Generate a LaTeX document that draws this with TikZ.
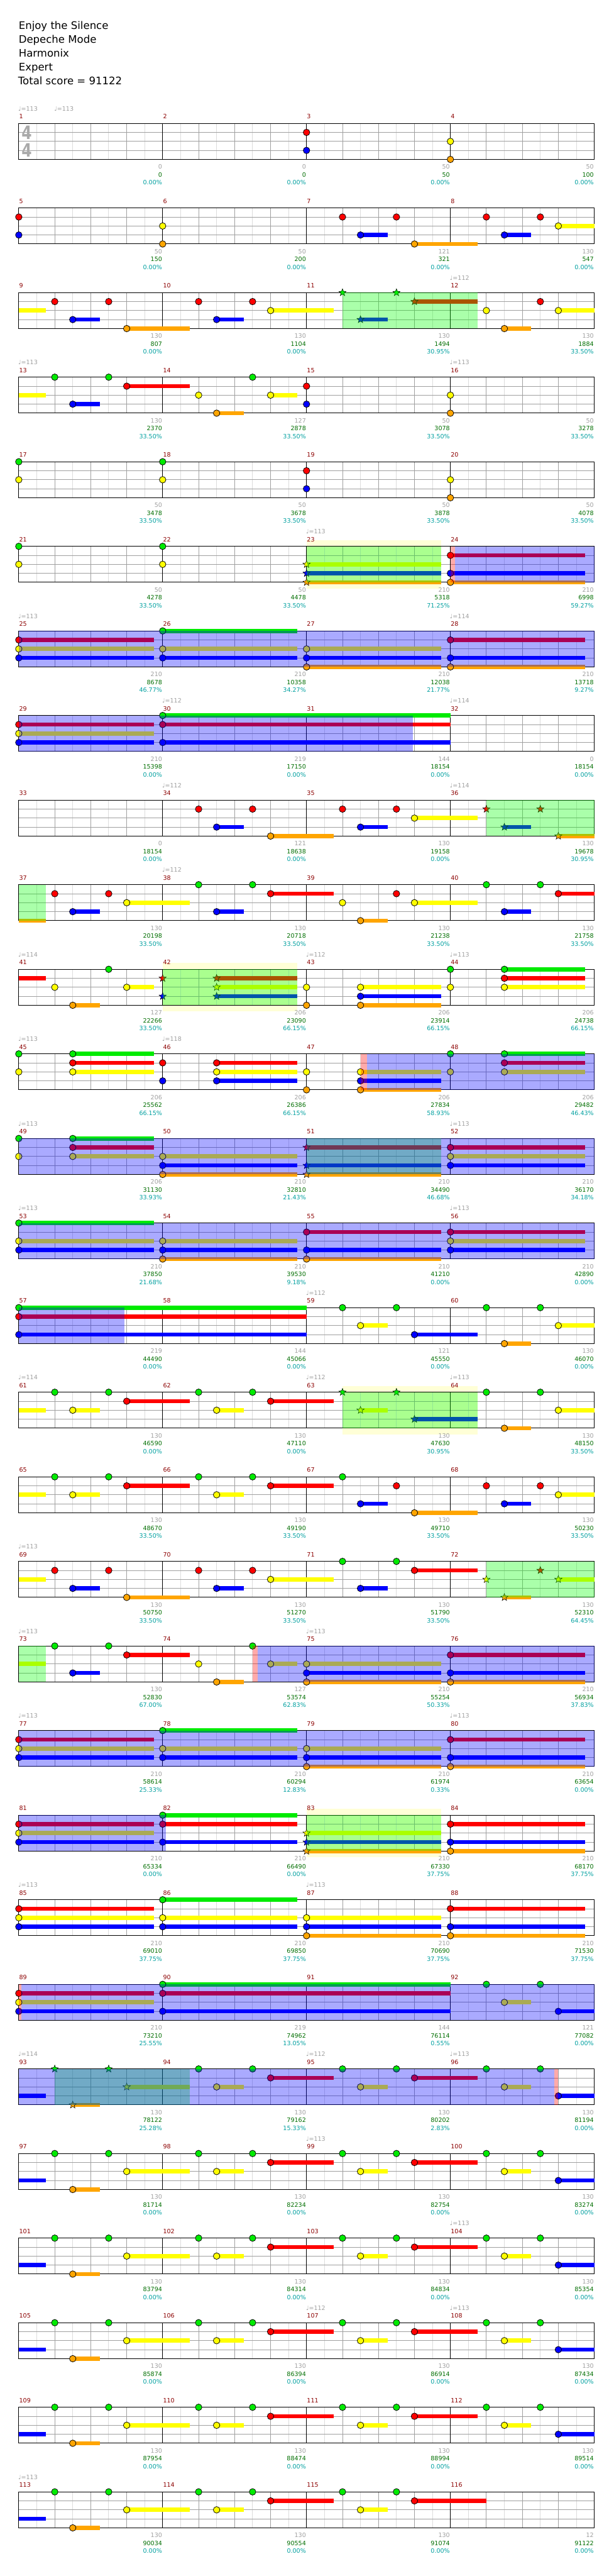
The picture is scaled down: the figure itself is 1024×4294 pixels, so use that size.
\documentclass[tikz,border=0pt]{standalone}
\usepackage{fontspec}
\setmainfont{DejaVu Sans}
\definecolor{cG}{RGB}{0,235,0}
\definecolor{cR}{RGB}{255,0,0}
\definecolor{cY}{RGB}{255,255,0}
\definecolor{cB}{RGB}{0,0,255}
\definecolor{cO}{RGB}{255,165,0}
\definecolor{ovG}{RGB}{0,255,0}
\definecolor{ovB}{RGB}{0,0,255}
\definecolor{ovR}{RGB}{255,0,0}
\definecolor{gridlight}{RGB}{220,220,220}
\definecolor{gridmid}{RGB}{160,160,160}
\definecolor{mnum}{RGB}{140,0,0}
\definecolor{numgray}{RGB}{160,160,160}
\definecolor{numgreen}{RGB}{0,110,0}
\definecolor{numteal}{RGB}{0,160,160}
\definecolor{paley}{RGB}{255,255,215}
\definecolor{tsig}{RGB}{170,170,170}
\tikzset{
  smalltxt/.style={font=\fontsize{7.5pt}{9pt}\selectfont, inner sep=0pt},
  titletxt/.style={font=\fontsize{13pt}{15pt}\selectfont, inner sep=0pt, anchor=base west},
  tsigtxt/.style={text=tsig, font=\bfseries\fontsize{23pt}{23pt}\selectfont, inner sep=0pt}
}
\newcounter{nn}
\def\lyG{0}\def\lyR{15}\def\lyY{30}\def\lyB{45}\def\lyO{60}
\newcommand\Gm[2]{\edef\tmpy{\csname ly#2\endcsname}\filldraw[fill=c#2,draw=black,line width=0.6pt] ({31.33+30*(#1)},\tmpy) circle (4.1pt);}
\newcommand\Bar[3]{\edef\tmpy{\csname ly#3\endcsname}\fill[c#3] ({31.33+30*(#1)},{\tmpy-3.5}) rectangle ({31.33+30*(#2)},{\tmpy+3.5});}
\newcommand\Su[3]{\Bar{#1}{#2}{#3}\Gm{#1}{#3}}
\newcommand\Cn[2]{\Bar{0}{#1}{#2}}
\newcommand\Sr[2]{\edef\tmpy{\csname ly#2\endcsname}\filldraw[fill=c#2,draw=black,line width=0.4pt] ({31.33+30*(#1)},\tmpy) +(90:4.8pt) -- +(126:2pt) -- +(162:4.8pt) -- +(198:2pt) -- +(234:4.8pt) -- +(270:2pt) -- +(306:4.8pt) -- +(342:2pt) -- +(18:4.8pt) -- +(54:2pt) -- cycle;}
\newcommand\SrS[3]{\Bar{#1}{#2}{#3}\Sr{#1}{#3}}
\newcommand\Ch[3]{\foreach \L in {#3}{\Su{#1}{#2}{\L}}}
\newcommand\ChS[3]{\foreach \L in {#3}{\SrS{#1}{#2}{\L}}}
\newcommand\OvG[2]{\fill[ovG,fill opacity=0.333] ({31.33+30*(#1)},0) rectangle ({31.33+30*(#2)},60);}
\newcommand\OvB[2]{\fill[ovB,fill opacity=0.333] ({31.33+30*(#1)},0) rectangle ({31.33+30*(#2)},60);}
\newcommand\OvR[2]{\fill[ovR,fill opacity=0.333] ({31.33+30*(#1)},0) rectangle ({31.33+30*(#2)},60);}
\newcommand\Pl[2]{\fill[paley] ({31.33+30*(#1)},-10.5) rectangle ({31.33+30*(#2)},70.5);}
\newcommand\Grid{%
  \foreach \i in {1,3,...,31} \draw[gridlight,line width=0.75pt] ({31.33+30*\i},0) -- ({31.33+30*\i},60);
  \foreach \i in {2,4,6,10,12,14,18,20,22,26,28,30} \draw[gridmid,line width=0.75pt] ({31.33+30*\i},0) -- ({31.33+30*\i},60);
  \foreach \j in {15,30,45} \draw[gridmid,line width=0.75pt] (31.33,\j) -- (991.33,\j);
  \foreach \i in {8,16,24} \draw[black,line width=0.75pt] ({31.33+30*\i},0) -- ({31.33+30*\i},60);
  \draw[black,line width=0.75pt] (31.33,0) rectangle (991.33,60);}
\newcommand\Ms[2]{\stepcounter{nn}\node[smalltxt,text=mnum,anchor=base west] (t\arabic{nn}) at ({31.83+240*(#1)},-7.7) {#2};}
\newcommand\Mn[1]{\Ms{0}{\the\numexpr4*#1+1\relax}\Ms{1}{\the\numexpr4*#1+2\relax}\Ms{2}{\the\numexpr4*#1+3\relax}\Ms{3}{\the\numexpr4*#1+4\relax}}
\newcommand\Nm[4]{%
  \stepcounter{nn}\node[smalltxt,text=numgray,anchor=base east] (t\arabic{nn}) at ({31.33+240*(#1)-0.7},76) {#2};
  \stepcounter{nn}\node[smalltxt,text=numgreen,anchor=base east] (t\arabic{nn}) at ({31.33+240*(#1)-0.7},89.3) {#3};
  \stepcounter{nn}\node[smalltxt,text=numteal,anchor=base east] (t\arabic{nn}) at ({31.33+240*(#1)-0.7},102) {#4\%};}
\newcommand\Tp[2]{\stepcounter{nn}\node[smalltxt,text=numgray,anchor=base west] (t\arabic{nn}) at ({31.33+30*(#1)-1},-20.7) {♩=#2};}
\newcommand\Pat{\Cn{1.5}{B}\Gm{2}{G}\Su{3}{4.5}{O}\Gm{5}{G}\Su{6}{9.5}{Y}\Gm{10}{G}\Su{11}{12.5}{Y}\Gm{13}{G}\Su{14}{17.5}{R}\Gm{18}{G}\Su{19}{20.5}{Y}\Gm{21}{G}\Su{22}{25.5}{R}\Gm{26}{G}\Su{27}{28.5}{Y}\Gm{29}{G}\Su{30}{32}{B}}
\begin{document}
\begin{tikzpicture}[x=0.75pt,y=-0.75pt]
\useasboundingbox (0,0) rectangle (1024,4294);
\fill[white] (0,0) rectangle (1024,4294);
\node[titletxt] (h1) at (31,49) {Enjoy the Silence};
\node[titletxt] (h2) at (31,72) {Depeche Mode};
\node[titletxt] (h3) at (31,95) {Harmonix};
\node[titletxt] (h4) at (31,118) {Expert};
\node[titletxt] (h5) at (30,141) {Total score = 91122};
% row 0
\begin{scope}[shift={(0,205.7)}]
\Grid\Mn{0}\Tp{0}{113}\Tp{2}{113}
\node[tsigtxt] (ts1) at (44.5,15) {\scalebox{0.8}[1]{4}};
\node[tsigtxt] (ts2) at (44.5,45) {\scalebox{0.8}[1]{4}};
\Gm{16}{R}\Gm{16}{B}\Gm{24}{Y}\Gm{24}{O}
\Nm{1}{0}{0}{0.00}\Nm{2}{0}{0}{0.00}\Nm{3}{50}{50}{0.00}\Nm{4}{50}{100}{0.00}
\end{scope}
% row 1
\begin{scope}[shift={(0,205.7+141*1)}]
\Grid\Mn{1}
\Gm{0}{R}\Gm{0}{B}\Gm{8}{Y}\Gm{8}{O}
\Gm{18}{R}\Su{19}{20.5}{B}\Gm{21}{R}\Su{22}{25.5}{O}
\Gm{26}{R}\Su{27}{28.5}{B}\Gm{29}{R}\Su{30}{32}{Y}
\Nm{1}{50}{150}{0.00}\Nm{2}{50}{200}{0.00}\Nm{3}{121}{321}{0.00}\Nm{4}{130}{547}{0.00}
\end{scope}
% row 2
\begin{scope}[shift={(0,205.7+141*2)}]
\Grid\Mn{2}\Tp{24}{112}
\Cn{1.5}{Y}\Gm{2}{R}\Su{3}{4.5}{B}\Gm{5}{R}\Su{6}{9.5}{O}
\Gm{10}{R}\Su{11}{12.5}{B}\Gm{13}{R}\Su{14}{17.5}{Y}
\Sr{18}{G}\SrS{19}{20.5}{B}\Sr{21}{G}\SrS{22}{25.5}{R}
\Gm{26}{Y}\Su{27}{28.5}{O}\Gm{29}{R}\Su{30}{32}{Y}
\OvG{18}{25.5}
\Nm{1}{130}{807}{0.00}\Nm{2}{130}{1104}{0.00}\Nm{3}{130}{1494}{30.95}\Nm{4}{130}{1884}{33.50}
\end{scope}
% row 3
\begin{scope}[shift={(0,205.7+141*3)}]
\Grid\Mn{3}\Tp{0}{113}\Tp{24}{113}
\Cn{1.5}{Y}\Gm{2}{G}\Su{3}{4.5}{B}\Gm{5}{G}\Su{6}{9.5}{R}\Gm{10}{Y}\Su{11}{12.5}{O}\Gm{13}{G}\Su{14}{15.5}{Y}
\Gm{16}{R}\Gm{16}{B}\Gm{24}{Y}\Gm{24}{O}
\Nm{1}{130}{2370}{33.50}\Nm{2}{127}{2878}{33.50}\Nm{3}{50}{3078}{33.50}\Nm{4}{50}{3278}{33.50}
\end{scope}
% row 4
\begin{scope}[shift={(0,205.7+141*4)}]
\Grid\Mn{4}
\Gm{0}{G}\Gm{0}{Y}\Gm{8}{G}\Gm{8}{Y}\Gm{16}{R}\Gm{16}{B}\Gm{24}{Y}\Gm{24}{O}
\Nm{1}{50}{3478}{33.50}\Nm{2}{50}{3678}{33.50}\Nm{3}{50}{3878}{33.50}\Nm{4}{50}{4078}{33.50}
\end{scope}
% row 5
\begin{scope}[shift={(0,205.7+141*5)}]
\Pl{16}{23.5}\Grid\Mn{5}\Tp{16}{113}
\Gm{0}{G}\Gm{0}{Y}\Gm{8}{G}\Gm{8}{Y}
\ChS{16}{23.5}{Y,B,O}
\Ch{24}{31.5}{R,B,O}
\OvG{16}{23.5}\OvR{24}{24.27}\OvB{24.27}{32}
\Nm{1}{50}{4278}{33.50}\Nm{2}{50}{4478}{33.50}\Nm{3}{210}{5318}{71.25}\Nm{4}{210}{6998}{59.27}
\end{scope}
% row 6
\begin{scope}[shift={(0,205.7+141*6)}]
\Grid\Mn{6}\Tp{0}{113}\Tp{24}{114}
\Ch{0}{7.5}{R,Y,B}\Ch{8}{15.5}{G,Y,B}\Ch{16}{23.5}{Y,B,O}\Ch{24}{31.5}{R,B,O}
\OvB{0}{32}
\Nm{1}{210}{8678}{46.77}\Nm{2}{210}{10358}{34.27}\Nm{3}{210}{12038}{21.77}\Nm{4}{210}{13718}{9.27}
\end{scope}
% row 7
\begin{scope}[shift={(0,205.7+141*7)}]
\Grid\Mn{7}\Tp{8}{112}\Tp{24}{114}
\Ch{0}{7.5}{R,Y,B}\Ch{8}{24}{G,R,B}
\OvB{0}{21.92}
\Nm{1}{210}{15398}{0.00}\Nm{2}{219}{17150}{0.00}\Nm{3}{144}{18154}{0.00}\Nm{4}{0}{18154}{0.00}
\end{scope}
% row 8
\begin{scope}[shift={(0,205.7+141*8)}]
\Grid\Mn{8}\Tp{8}{112}\Tp{24}{114}
\Gm{10}{R}\Su{11}{12.5}{B}\Gm{13}{R}\Su{14}{17.5}{O}
\Gm{18}{R}\Su{19}{20.5}{B}\Gm{21}{R}\Su{22}{25.5}{Y}
\Sr{26}{R}\SrS{27}{28.5}{B}\Sr{29}{R}\SrS{30}{32}{O}
\OvG{26}{32}
\Nm{1}{0}{18154}{0.00}\Nm{2}{121}{18638}{0.00}\Nm{3}{130}{19158}{0.00}\Nm{4}{130}{19678}{30.95}
\end{scope}
% row 9
\begin{scope}[shift={(0,205.7+141*9)}]
\Grid\Mn{9}\Tp{8}{112}
\Cn{1.5}{O}\Gm{2}{R}\Su{3}{4.5}{B}\Gm{5}{R}\Su{6}{9.5}{Y}\Gm{10}{G}\Su{11}{12.5}{B}\Gm{13}{G}\Su{14}{17.5}{R}\Gm{18}{Y}\Su{19}{20.5}{O}\Gm{21}{R}\Su{22}{25.5}{Y}\Gm{26}{G}\Su{27}{28.5}{B}\Gm{29}{G}\Su{30}{32}{R}
\OvG{0}{1.5}
\Nm{1}{130}{20198}{33.50}\Nm{2}{130}{20718}{33.50}\Nm{3}{130}{21238}{33.50}\Nm{4}{130}{21758}{33.50}
\end{scope}
% row 10
\begin{scope}[shift={(0,205.7+141*10)}]
\Pl{8}{15.5}\Grid\Mn{10}\Tp{0}{114}\Tp{16}{112}\Tp{24}{113}
\Cn{1.5}{R}\Gm{2}{Y}\Su{3}{4.5}{O}\Gm{5}{G}\Su{6}{7.5}{Y}
\Sr{8}{R}\Sr{8}{B}\ChS{11}{15.5}{R,Y,B}
\Gm{16}{Y}\Gm{16}{O}\Ch{19}{23.5}{Y,B,O}
\Gm{24}{G}\Gm{24}{Y}\Ch{27}{31.5}{G,R,Y}
\OvG{8}{15.5}
\Nm{1}{127}{22266}{33.50}\Nm{2}{206}{23090}{66.15}\Nm{3}{206}{23914}{66.15}\Nm{4}{206}{24738}{66.15}
\end{scope}
% row 11
\begin{scope}[shift={(0,205.7+141*11)}]
\Grid\Mn{11}\Tp{0}{113}\Tp{8}{118}
\Gm{0}{G}\Gm{0}{Y}\Ch{3}{7.5}{G,R,Y}\Gm{8}{R}\Gm{8}{B}\Ch{11}{15.5}{R,Y,B}\Gm{16}{Y}\Gm{16}{O}\Ch{19}{23.5}{Y,B,O}\Gm{24}{G}\Gm{24}{Y}\Ch{27}{31.5}{G,R,Y}
\OvR{19}{19.35}\OvB{19.35}{32}
\Nm{1}{206}{25562}{66.15}\Nm{2}{206}{26386}{66.15}\Nm{3}{206}{27834}{58.93}\Nm{4}{206}{29482}{46.43}
\end{scope}
% row 12
\begin{scope}[shift={(0,205.7+141*12)}]
\Grid\Mn{12}\Tp{0}{113}\Tp{24}{113}
\Gm{0}{G}\Gm{0}{Y}\Ch{3}{7.5}{G,R,Y}\Ch{8}{15.5}{Y,B,O}\ChS{16}{23.5}{R,B,O}\Ch{24}{31.5}{R,Y,B}
\OvG{16}{23.5}\OvB{0}{32}
\Nm{1}{206}{31130}{33.93}\Nm{2}{210}{32810}{21.43}\Nm{3}{210}{34490}{46.68}\Nm{4}{210}{36170}{34.18}
\end{scope}
% row 13
\begin{scope}[shift={(0,205.7+141*13)}]
\Grid\Mn{13}\Tp{0}{113}\Tp{24}{113}
\Ch{0}{7.5}{G,Y,B}\Ch{8}{15.5}{Y,B,O}\Ch{16}{23.5}{R,B,O}\Ch{24}{31.5}{R,Y,B}
\OvB{0}{32}
\Nm{1}{210}{37850}{21.68}\Nm{2}{210}{39530}{9.18}\Nm{3}{210}{41210}{0.00}\Nm{4}{210}{42890}{0.00}
\end{scope}
% row 14
\begin{scope}[shift={(0,205.7+141*14)}]
\Grid\Mn{14}\Tp{16}{112}
\Ch{0}{16}{G,R,B}
\Gm{18}{G}\Su{19}{20.5}{Y}\Gm{21}{G}\Su{22}{25.5}{B}\Gm{26}{G}\Su{27}{28.5}{O}\Gm{29}{G}\Su{30}{32}{Y}
\OvB{0}{5.86}
\Nm{1}{219}{44490}{0.00}\Nm{2}{144}{45066}{0.00}\Nm{3}{121}{45550}{0.00}\Nm{4}{130}{46070}{0.00}
\end{scope}
% row 15
\begin{scope}[shift={(0,205.7+141*15)}]
\Pl{18}{25.5}\Grid\Mn{15}\Tp{0}{114}\Tp{16}{112}\Tp{24}{113}
\Cn{1.5}{Y}\Gm{2}{G}\Su{3}{4.5}{Y}\Gm{5}{G}\Su{6}{9.5}{R}\Gm{10}{G}\Su{11}{12.5}{Y}\Gm{13}{G}\Su{14}{17.5}{R}
\Sr{18}{G}\SrS{19}{20.5}{Y}\Sr{21}{G}\SrS{22}{25.5}{B}
\Gm{26}{G}\Su{27}{28.5}{O}\Gm{29}{G}\Su{30}{32}{Y}
\OvG{18}{25.5}
\Nm{1}{130}{46590}{0.00}\Nm{2}{130}{47110}{0.00}\Nm{3}{130}{47630}{30.95}\Nm{4}{130}{48150}{33.50}
\end{scope}
% row 16
\begin{scope}[shift={(0,205.7+141*16)}]
\Grid\Mn{16}
\Cn{1.5}{Y}\Gm{2}{G}\Su{3}{4.5}{Y}\Gm{5}{G}\Su{6}{9.5}{R}\Gm{10}{G}\Su{11}{12.5}{Y}\Gm{13}{G}\Su{14}{17.5}{R}\Gm{18}{G}\Su{19}{20.5}{B}\Gm{21}{R}\Su{22}{25.5}{O}\Gm{26}{R}\Su{27}{28.5}{B}\Gm{29}{R}\Su{30}{32}{Y}
\Nm{1}{130}{48670}{33.50}\Nm{2}{130}{49190}{33.50}\Nm{3}{130}{49710}{33.50}\Nm{4}{130}{50230}{33.50}
\end{scope}
% row 17
\begin{scope}[shift={(0,205.7+141*17)}]
\Grid\Mn{17}\Tp{0}{113}
\Cn{1.5}{Y}\Gm{2}{R}\Su{3}{4.5}{B}\Gm{5}{R}\Su{6}{9.5}{O}\Gm{10}{R}\Su{11}{12.5}{B}\Gm{13}{R}\Su{14}{17.5}{Y}\Gm{18}{G}\Su{19}{20.5}{B}\Gm{21}{G}\Su{22}{25.5}{R}
\Sr{26}{Y}\SrS{27}{28.5}{O}\Sr{29}{R}\SrS{30}{32}{Y}
\OvG{26}{32}
\Nm{1}{130}{50750}{33.50}\Nm{2}{130}{51270}{33.50}\Nm{3}{130}{51790}{33.50}\Nm{4}{130}{52310}{64.45}
\end{scope}
% row 18
\begin{scope}[shift={(0,205.7+141*18)}]
\Grid\Mn{18}\Tp{0}{113}\Tp{16}{113}
\Cn{1.5}{Y}\Gm{2}{G}\Su{3}{4.5}{B}\Gm{5}{G}\Su{6}{9.5}{R}\Gm{10}{Y}\Su{11}{12.5}{O}\Gm{13}{G}\Su{14}{15.5}{Y}
\Ch{16}{23.5}{Y,B,O}\Ch{24}{31.5}{R,B,O}
\OvG{0}{1.5}\OvR{13}{13.28}\OvB{13.28}{32}
\Nm{1}{130}{52830}{67.00}\Nm{2}{127}{53574}{62.83}\Nm{3}{210}{55254}{50.33}\Nm{4}{210}{56934}{37.83}
\end{scope}
% row 19
\begin{scope}[shift={(0,205.7+141*19)}]
\Grid\Mn{19}\Tp{0}{113}\Tp{24}{113}
\Ch{0}{7.5}{R,Y,B}\Ch{8}{15.5}{G,Y,B}\Ch{16}{23.5}{Y,B,O}\Ch{24}{31.5}{R,B,O}
\OvB{0}{32}
\Nm{1}{210}{58614}{25.33}\Nm{2}{210}{60294}{12.83}\Nm{3}{210}{61974}{0.33}\Nm{4}{210}{63654}{0.00}
\end{scope}
% row 20
\begin{scope}[shift={(0,205.7+141*20)}]
\Pl{16}{23.5}\Grid\Mn{20}
\Ch{0}{7.5}{R,Y,B}\Ch{8}{15.5}{G,R,B}\ChS{16}{23.5}{Y,B,O}\Ch{24}{31.5}{R,B,O}
\OvG{16}{23.5}\OvB{0}{8.18}
\Nm{1}{210}{65334}{0.00}\Nm{2}{210}{66490}{0.00}\Nm{3}{210}{67330}{37.75}\Nm{4}{210}{68170}{37.75}
\end{scope}
% row 21
\begin{scope}[shift={(0,205.7+141*21)}]
\Grid\Mn{21}\Tp{0}{113}\Tp{16}{113}
\Ch{0}{7.5}{R,Y,B}\Ch{8}{15.5}{G,Y,B}\Ch{16}{23.5}{Y,B,O}\Ch{24}{31.5}{R,B,O}
\Nm{1}{210}{69010}{37.75}\Nm{2}{210}{69850}{37.75}\Nm{3}{210}{70690}{37.75}\Nm{4}{210}{71530}{37.75}
\end{scope}
% row 22
\begin{scope}[shift={(0,205.7+141*22)}]
\Grid\Mn{22}
\Ch{0}{7.5}{R,Y,B}\Ch{8}{24}{G,R,B}\Gm{26}{G}\Su{27}{28.5}{Y}\Gm{29}{G}\Su{30}{32}{B}
\OvR{0}{0.15}\OvB{0.15}{32}
\Nm{1}{210}{73210}{25.55}\Nm{2}{219}{74962}{13.05}\Nm{3}{144}{76114}{0.55}\Nm{4}{121}{77082}{0.00}
\end{scope}
% row 23
\begin{scope}[shift={(0,205.7+141*23)}]
\Grid\Mn{23}\Tp{0}{114}\Tp{16}{112}\Tp{24}{113}
\Cn{1.5}{B}\Sr{2}{G}\SrS{3}{4.5}{O}\Sr{5}{G}\SrS{6}{9.5}{Y}
\Gm{10}{G}\Su{11}{12.5}{Y}\Gm{13}{G}\Su{14}{17.5}{R}\Gm{18}{G}\Su{19}{20.5}{Y}\Gm{21}{G}\Su{22}{25.5}{R}\Gm{26}{G}\Su{27}{28.5}{Y}\Gm{29}{G}\Su{30}{32}{B}
\OvG{2}{9.5}\OvB{0}{29.78}\OvR{29.78}{30}
\Nm{1}{130}{78122}{25.28}\Nm{2}{130}{79162}{15.33}\Nm{3}{130}{80202}{2.83}\Nm{4}{130}{81194}{0.00}
\end{scope}
% row 24
\begin{scope}[shift={(0,205.7+141*24)}]
\Grid\Mn{24}\Tp{16}{113}
\Pat
\Nm{1}{130}{81714}{0.00}\Nm{2}{130}{82234}{0.00}\Nm{3}{130}{82754}{0.00}\Nm{4}{130}{83274}{0.00}
\end{scope}
% row 25
\begin{scope}[shift={(0,205.7+141*25)}]
\Grid\Mn{25}\Tp{24}{113}
\Pat
\Nm{1}{130}{83794}{0.00}\Nm{2}{130}{84314}{0.00}\Nm{3}{130}{84834}{0.00}\Nm{4}{130}{85354}{0.00}
\end{scope}
% row 26
\begin{scope}[shift={(0,205.7+141*26)}]
\Grid\Mn{26}\Tp{16}{112}\Tp{24}{113}
\Pat
\Nm{1}{130}{85874}{0.00}\Nm{2}{130}{86394}{0.00}\Nm{3}{130}{86914}{0.00}\Nm{4}{130}{87434}{0.00}
\end{scope}
% row 27
\begin{scope}[shift={(0,205.7+141*27)}]
\Grid\Mn{27}
\Pat
\Nm{1}{130}{87954}{0.00}\Nm{2}{130}{88474}{0.00}\Nm{3}{130}{88994}{0.00}\Nm{4}{130}{89514}{0.00}
\end{scope}
% row 28
\begin{scope}[shift={(0,205.7+141*28)}]
\Grid\Mn{28}\Tp{0}{113}
\Cn{1.5}{B}\Gm{2}{G}\Su{3}{4.5}{O}\Gm{5}{G}\Su{6}{9.5}{Y}\Gm{10}{G}\Su{11}{12.5}{Y}\Gm{13}{G}\Su{14}{17.5}{R}\Gm{18}{G}\Su{19}{20.5}{Y}\Gm{21}{G}\Su{22}{26}{R}
\Nm{1}{130}{90034}{0.00}\Nm{2}{130}{90554}{0.00}\Nm{3}{130}{91074}{0.00}\Nm{4}{12}{91122}{0.00}
\end{scope}
\end{tikzpicture}
\end{document}
